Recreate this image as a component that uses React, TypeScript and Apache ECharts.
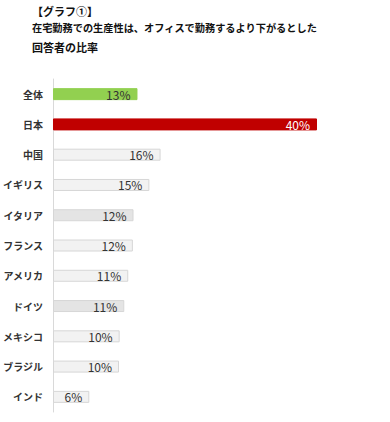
import React, { useEffect, useRef } from "react";
import * as echarts from "echarts";

const categories = ["全体", "日本", "中国", "イギリス", "イタリア", "フランス", "アメリカ", "ドイツ", "メキシコ", "ブラジル", "インド"];
const values = [12.8, 40, 16.3, 14.6, 12.2, 12.1, 11.4, 10.8, 10.1, 10.0, 5.5];
const labels = ["13%", "40%", "16%", "15%", "12%", "12%", "11%", "11%", "10%", "10%", "6%"];
const fills = ["#92d050", "#c00000", "#f2f2f2", "#f2f2f2", "#e4e4e4", "#f2f2f2", "#f2f2f2", "#e4e4e4", "#f2f2f2", "#f2f2f2", "#f2f2f2"];
const titleLines = ["【グラフ①】", "在宅勤務での生産性は、オフィスで勤務するより下がるとした", "回答者の比率"];

const FONT = "'Noto Sans CJK JP', 'Noto Sans', sans-serif";

export default function App() {
  const ref = useRef<HTMLDivElement>(null);
  useEffect(() => {
    if (!ref.current) return;
    const chart = echarts.init(ref.current, undefined, { renderer: "svg" });
    chart.setOption({
      animation: false,
      backgroundColor: "#ffffff",
      textStyle: { fontFamily: FONT },
      graphic: titleLines.map((t, i) => ({
        type: "text",
        left: 32,
        top: [5, 22, 41][i],
        style: { text: t, fontSize: i === 1 ? 10.2 : 11, fontWeight: "bold", fill: "#111", fontFamily: FONT },
      })),
      grid: { left: 52, right: 73, top: 79, bottom: 10, containLabel: false },
      xAxis: {
        type: "value",
        min: 0,
        max: 40,
        show: false,
      },
      yAxis: {
        type: "category",
        inverse: true,
        data: categories,
        axisLine: { show: true, lineStyle: { color: "#d9d9d9", width: 1 } },
        axisTick: { show: false },
        axisLabel: { color: "#333", fontSize: 10, fontWeight: "bold", margin: 10, fontFamily: FONT },
      },
      series: [
        {
          type: "bar",
          barWidth: 12,
          data: values.map((v, i) => ({
            value: v,
            itemStyle: {
              color: fills[i],
              borderColor: i < 2 ? fills[i] : "#d6d6d6",
              borderWidth: 1,
            },
            label: {
              show: true,
              position: "insideRight",
              distance: 7,
              formatter: labels[i],
              color: i === 1 ? "#ffffff" : "#333",
              fontSize: 12,
              fontFamily: FONT,
            },
          })),
        },
      ],
    });
    return () => chart.dispose();
  }, []);
  return <div ref={ref} style={{ position: "fixed", left: 0, top: 0, width: 390, height: 422 }} />;
}
